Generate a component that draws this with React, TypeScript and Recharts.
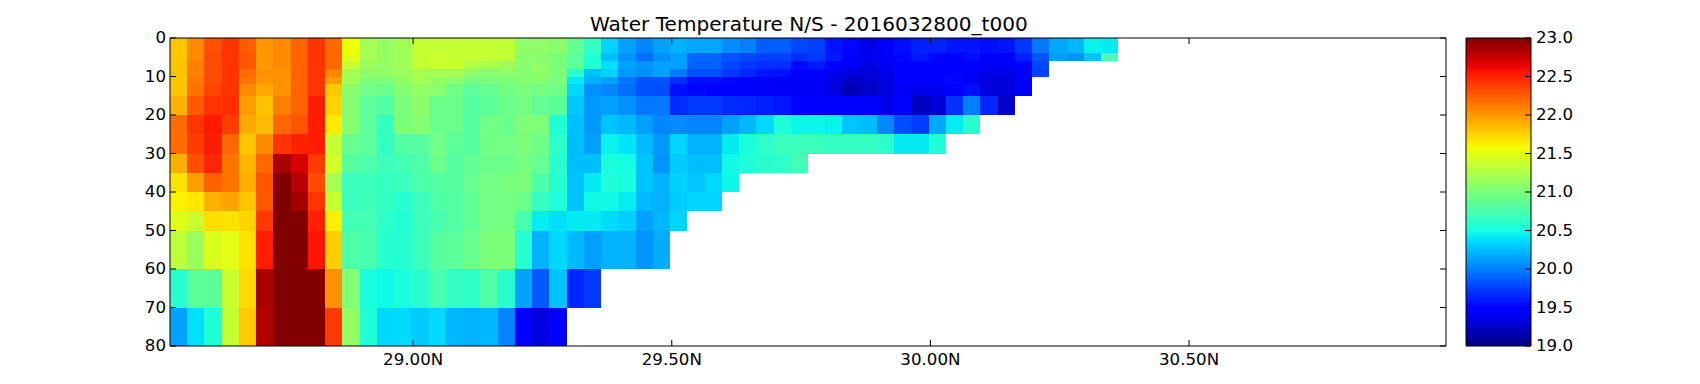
import { ComposedChart, ReferenceArea, XAxis, YAxis } from 'recharts';

const FONT = '"DejaVu Sans", sans-serif';

// depth band edges (m) and longitude grid, 74 cells of 1/30 degree
const DEPTH_EDGES = [0, 4, 6, 8, 10, 12, 15, 20, 25, 30, 35, 40, 45, 50, 60, 70, 80];
const LAT_START = 28.53;
const LAT_STEP = 1 / 30;
const LAT_END = LAT_START + 74 * LAT_STEP;
const LAT_TICKS = [29, 29.5, 30, 30.5];
const DEPTH_TICKS = [0, 10, 20, 30, 40, 50, 60, 70, 80];
const TEMP_TICKS = [19, 19.5, 20, 20.5, 21, 21.5, 22, 22.5, 23];

// temperature per depth band, south to north
const T_00 = [21.8, 22.05, 22.3, 22.42, 22.25, 22.0, 22.05, 22.22, 22.42, 22.2, 21.56, 21.2, 21.12, 21.18, 21.36, 21.36, 21.36, 21.36, 21.36, 21.34, 21.1, 21.1, 21.07, 20.88, 20.65, 20.33, 20.13, 20.03, 20.13, 20.2, 20.15, 20.15, 20.05, 20.0, 19.87, 19.87, 19.78, 19.75, 19.57, 19.52, 19.36, 19.42, 19.55, 19.63, 19.63, 19.58, 19.58, 19.55, 19.58, 19.72, 19.97, 20.15, 20.22, 20.45, 20.42];
const T_04 = [21.8, 22.05, 22.32, 22.42, 22.28, 22.0, 22.05, 22.22, 22.42, 22.2, 21.5, 21.2, 21.12, 21.18, 21.36, 21.38, 21.36, 21.36, 21.36, 21.34, 21.07, 21.07, 21.0, 20.85, 20.55, 20.25, 20.08, 19.93, 20.07, 20.13, 19.9, 19.9, 19.83, 19.78, 19.75, 19.75, 19.68, 19.72, 19.6, 19.5, 19.4, 19.42, 19.52, 19.6, 19.52, 19.48, 19.55, 19.47, 19.47, 19.62, 19.83, 20.12, 20.08, 20.27, 20.75];
const T_06 = [21.8, 22.1, 22.32, 22.42, 22.28, 22.0, 22.05, 22.22, 22.42, 22.2, 21.37, 21.15, 21.12, 21.18, 21.36, 21.38, 21.38, 21.25, 21.22, 21.17, 21.07, 21.1, 21.0, 20.85, 20.55, 20.38, 20.13, 20.08, 20.13, 20.13, 19.88, 19.88, 19.78, 19.72, 19.68, 19.68, 19.52, 19.6, 19.5, 19.42, 19.33, 19.4, 19.48, 19.5, 19.48, 19.48, 19.48, 19.42, 19.42, 19.48, 19.78];
const T_08 = [21.8, 22.1, 22.32, 22.42, 22.18, 22.02, 22.03, 22.22, 22.42, 22.08, 21.2, 21.1, 21.1, 21.15, 21.2, 21.2, 21.2, 21.1, 21.05, 21.08, 21.07, 21.1, 21.0, 20.6, 20.27, 20.33, 20.1, 20.07, 20.13, 19.97, 19.8, 19.8, 19.72, 19.65, 19.58, 19.55, 19.47, 19.48, 19.38, 19.33, 19.3, 19.36, 19.45, 19.45, 19.45, 19.44, 19.42, 19.35, 19.35, 19.42, 19.75];
const T_10 = [21.8, 22.13, 22.32, 22.42, 22.15, 22.0, 22.02, 22.22, 22.42, 21.98, 21.2, 21.02, 21.02, 21.1, 21.2, 21.12, 21.08, 20.97, 21.0, 21.0, 21.05, 21.05, 21.0, 20.42, 20.2, 20.13, 19.95, 19.82, 19.82, 19.68, 19.55, 19.55, 19.52, 19.5, 19.42, 19.42, 19.42, 19.42, 19.33, 19.25, 19.27, 19.33, 19.43, 19.43, 19.45, 19.52, 19.42, 19.33, 19.32, 19.42];
const T_12 = [21.8, 22.15, 22.35, 22.42, 22.05, 21.92, 22.02, 22.22, 22.42, 21.78, 21.07, 20.95, 20.92, 21.05, 21.12, 21.08, 20.95, 20.85, 20.9, 20.97, 21.0, 20.97, 20.95, 20.35, 20.07, 20.02, 19.93, 19.82, 19.8, 19.55, 19.52, 19.5, 19.47, 19.47, 19.42, 19.42, 19.42, 19.42, 19.33, 19.2, 19.25, 19.33, 19.42, 19.38, 19.38, 19.47, 19.55, 19.33, 19.32, 19.42];
const T_15 = [21.88, 22.25, 22.42, 22.45, 21.98, 21.82, 22.1, 22.22, 22.52, 21.75, 21.05, 20.85, 20.8, 21.0, 21.08, 20.92, 20.92, 20.82, 20.85, 20.92, 20.97, 20.88, 20.85, 20.28, 20.1, 20.13, 20.07, 19.97, 19.97, 19.67, 19.72, 19.72, 19.67, 19.65, 19.62, 19.58, 19.48, 19.45, 19.44, 19.44, 19.44, 19.38, 19.44, 19.22, 19.3, 19.7, 20.0, 19.65, 19.25];
const T_20 = [22.18, 22.42, 22.53, 22.38, 21.92, 21.85, 22.2, 22.28, 22.52, 21.65, 21.05, 20.85, 20.65, 21.0, 21.05, 20.92, 20.92, 20.82, 20.95, 20.92, 21.02, 21.02, 20.55, 20.25, 20.1, 20.27, 20.23, 20.12, 20.03, 20.05, 20.03, 20.03, 20.13, 20.22, 20.35, 20.55, 20.47, 20.47, 20.45, 20.27, 20.24, 20.04, 19.8, 19.73, 20.16, 20.42, 20.6];
const T_25 = [22.18, 22.38, 22.52, 22.2, 21.8, 22.05, 22.42, 22.5, 22.52, 21.35, 20.9, 20.85, 20.65, 20.8, 20.82, 20.95, 20.85, 20.82, 20.95, 20.95, 21.0, 20.93, 20.62, 20.25, 20.13, 20.45, 20.4, 20.23, 20.1, 20.33, 20.2, 20.2, 20.42, 20.52, 20.62, 20.68, 20.68, 20.68, 20.65, 20.65, 20.65, 20.62, 20.42, 20.42, 20.55];
const T_30 = [21.9, 22.3, 22.48, 22.15, 21.87, 22.2, 22.85, 22.7, 22.4, 21.42, 20.82, 20.78, 20.68, 20.72, 20.78, 20.93, 20.82, 20.88, 20.93, 20.93, 20.98, 20.9, 20.6, 20.25, 20.25, 20.52, 20.5, 20.27, 20.08, 20.3, 20.25, 20.25, 20.48, 20.55, 20.6, 20.62, 20.72];
const T_35 = [21.68, 21.97, 22.23, 22.15, 21.9, 22.27, 23, 22.8, 22.32, 21.2, 20.68, 20.68, 20.66, 20.68, 20.77, 20.8, 20.82, 20.9, 20.95, 20.98, 21.0, 20.78, 20.58, 20.27, 20.42, 20.55, 20.52, 20.27, 20.2, 20.32, 20.27, 20.35, 20.47];
const T_40 = [21.62, 21.66, 21.9, 21.95, 21.8, 22.27, 23, 22.87, 22.42, 21.36, 20.68, 20.7, 20.65, 20.58, 20.68, 20.78, 20.8, 20.87, 20.95, 20.97, 20.92, 20.65, 20.55, 20.27, 20.48, 20.48, 20.43, 20.23, 20.2, 20.3, 20.33, 20.33];
const T_45 = [21.49, 21.37, 21.7, 21.68, 21.74, 22.4, 23, 23, 22.5, 21.62, 20.72, 20.72, 20.62, 20.57, 20.68, 20.75, 20.8, 20.87, 20.95, 20.97, 20.75, 20.43, 20.38, 20.42, 20.42, 20.36, 20.32, 20.13, 20.22, 20.33];
const T_50 = [21.32, 21.15, 21.46, 21.5, 21.68, 22.52, 23, 23, 22.55, 21.77, 20.78, 20.75, 20.6, 20.58, 20.68, 20.82, 20.85, 20.9, 21.0, 21.0, 20.58, 20.2, 20.35, 20.23, 20.12, 20.2, 20.2, 20.08, 20.18];
const T_60 = [20.6, 20.85, 20.85, 21.37, 21.72, 22.85, 23, 23, 23, 22.03, 21.03, 20.52, 20.48, 20.53, 20.6, 20.75, 20.65, 20.62, 20.8, 20.6, 20.13, 19.85, 20.27, 19.65, 19.72];
const T_70 = [20.13, 20.38, 20.55, 21.35, 21.78, 22.83, 23, 23, 23, 22.4, 21.12, 20.55, 20.35, 20.36, 20.3, 20.36, 20.22, 20.2, 20.22, 20.02, 19.47, 19.33, 19.44];

const TEMP_ROWS = [T_00, T_04, T_06, T_08, T_10, T_12, T_15, T_20, T_25, T_30, T_35, T_40, T_45, T_50, T_60, T_70];

// jet colormap breakpoints, [position, level]
const JET_R = [[0, 0], [0.35, 0], [0.66, 1], [0.89, 1], [1, 0.5]];
const JET_G = [[0, 0], [0.125, 0], [0.375, 1], [0.64, 1], [0.91, 0], [1, 0]];
const JET_B = [[0, 0.5], [0.11, 1], [0.34, 1], [0.65, 0], [1, 0]];
const JET_POSITIONS = [0, 0.11, 0.125, 0.34, 0.35, 0.375, 0.64, 0.65, 0.66, 0.89, 0.91, 1];

function channel(points: number[][], t: number) {
  for (let i = 1; i < points.length; i++) {
    if (t <= points[i][0]) {
      const [x0, y0] = points[i - 1];
      const [x1, y1] = points[i];
      return Math.round(255 * (y0 + ((t - x0) / (x1 - x0)) * (y1 - y0)));
    }
  }
  return Math.round(255 * points[points.length - 1][1]);
}

function jet(t: number) {
  return `rgb(${channel(JET_R, t)},${channel(JET_G, t)},${channel(JET_B, t)})`;
}

const tempColor = (v: number) => jet(Math.min(1, Math.max(0, (v - 19) / 4)));

function CellRect(props: any) {
  return <rect x={props.x} y={props.y} width={props.width} height={props.height} fill={props.fill} shapeRendering="crispEdges" />;
}

const tickText = { fontFamily: FONT, fontSize: 16.67, fill: '#000' };

function LatTick({ x, y, payload }: any) {
  return (
    <g>
      <line x1={x} x2={x} y1={y} y2={y - 6} stroke="#000" />
      <text x={x} y={y + 19} textAnchor="middle" {...tickText}>{payload.value.toFixed(2)}N</text>
    </g>
  );
}

function TopTick({ x, y }: any) {
  return <line x1={x} x2={x} y1={y} y2={y + 6} stroke="#000" />;
}

function DepthTick({ x, y, payload }: any) {
  return (
    <g>
      <line x1={x} x2={x + 6} y1={y} y2={y} stroke="#000" />
      <text x={x - 4} y={y + 5} textAnchor="end" {...tickText}>{payload.value}</text>
    </g>
  );
}

function RightTick({ x, y }: any) {
  return <line x1={x} x2={x - 6} y1={y} y2={y} stroke="#000" />;
}

function BarTick({ x, y, payload }: any) {
  return (
    <g>
      <line x1={x} x2={x - 6} y1={y} y2={y} stroke="#000" />
      <text x={x + 5} y={y + 5} textAnchor="start" {...tickText}>{payload.value.toFixed(1)}</text>
    </g>
  );
}

const line = { stroke: '#000' };

export default function App() {
  return (
    <div style={{ position: 'absolute', left: 0, top: 0, width: 1700, height: 384, background: '#fff' }}>
      <div style={{ position: 'absolute', left: 590, top: 12, fontFamily: FONT, fontSize: 20.08, color: '#000', whiteSpace: 'nowrap' }}>
        Water Temperature N/S - 2016032800_t000
      </div>
      <div style={{ position: 'absolute', left: 0, top: 0 }}>
        <ComposedChart width={1456} height={384} margin={{ top: 37, right: 9, bottom: 0, left: 130 }}>
          {TEMP_ROWS.flatMap((row, r) =>
            row.map((v, c) => (
              <ReferenceArea
                key={`${r}-${c}`}
                x1={LAT_START + c * LAT_STEP}
                x2={LAT_START + (c + 1) * LAT_STEP}
                y1={DEPTH_EDGES[r]}
                y2={DEPTH_EDGES[r + 1]}
                fill={tempColor(v)}
                fillOpacity={1}
                ifOverflow="visible"
                shape={CellRect}
              />
            ))
          )}
          <XAxis dataKey="lat" type="number" allowDataOverflow domain={[LAT_START, LAT_END]} ticks={LAT_TICKS} interval={0} height={38} tickSize={0} tickMargin={0} tickLine={false} axisLine={line} tick={LatTick} />
          <XAxis dataKey="lat" xAxisId="top" orientation="top" type="number" allowDataOverflow domain={[LAT_START, LAT_END]} ticks={LAT_TICKS} interval={0} height={1} tickSize={0} tickMargin={0} tickLine={false} axisLine={line} tick={TopTick} />
          <YAxis type="number" allowDataOverflow reversed domain={[0, 80]} ticks={DEPTH_TICKS} interval={0} width={40} tickSize={0} tickMargin={0} tickLine={false} axisLine={line} tick={DepthTick} />
          <YAxis yAxisId="right" orientation="right" type="number" allowDataOverflow reversed domain={[0, 80]} ticks={DEPTH_TICKS} interval={0} width={1} tickSize={0} tickMargin={0} tickLine={false} axisLine={line} tick={RightTick} />
        </ComposedChart>
      </div>
      <div style={{ position: 'absolute', left: 1465, top: 0 }}>
        <ComposedChart width={121} height={384} margin={{ top: 37, right: 0, bottom: 37, left: 0 }}>
          <defs>
            <linearGradient id="jetBar" x1="0" y1="1" x2="0" y2="0">
              {JET_POSITIONS.map((p) => (
                <stop key={p} offset={p} stopColor={jet(p)} />
              ))}
            </linearGradient>
          </defs>
          <ReferenceArea x1={0} x2={1} y1={19} y2={23} fill="url(#jetBar)" fillOpacity={1} ifOverflow="visible" />
          <XAxis dataKey="pos" type="number" allowDataOverflow domain={[0, 1]} height={1} tick={false} tickLine={false} axisLine={line} />
          <XAxis dataKey="pos" xAxisId="top" orientation="top" type="number" allowDataOverflow domain={[0, 1]} height={1} tick={false} tickLine={false} axisLine={line} />
          <YAxis type="number" allowDataOverflow domain={[19, 23]} width={1} tick={false} tickLine={false} axisLine={line} />
          <YAxis yAxisId="bar" orientation="right" type="number" allowDataOverflow domain={[19, 23]} ticks={TEMP_TICKS} interval={0} width={55} tickSize={0} tickMargin={0} tickLine={false} axisLine={line} tick={BarTick} />
        </ComposedChart>
      </div>
    </div>
  );
}
